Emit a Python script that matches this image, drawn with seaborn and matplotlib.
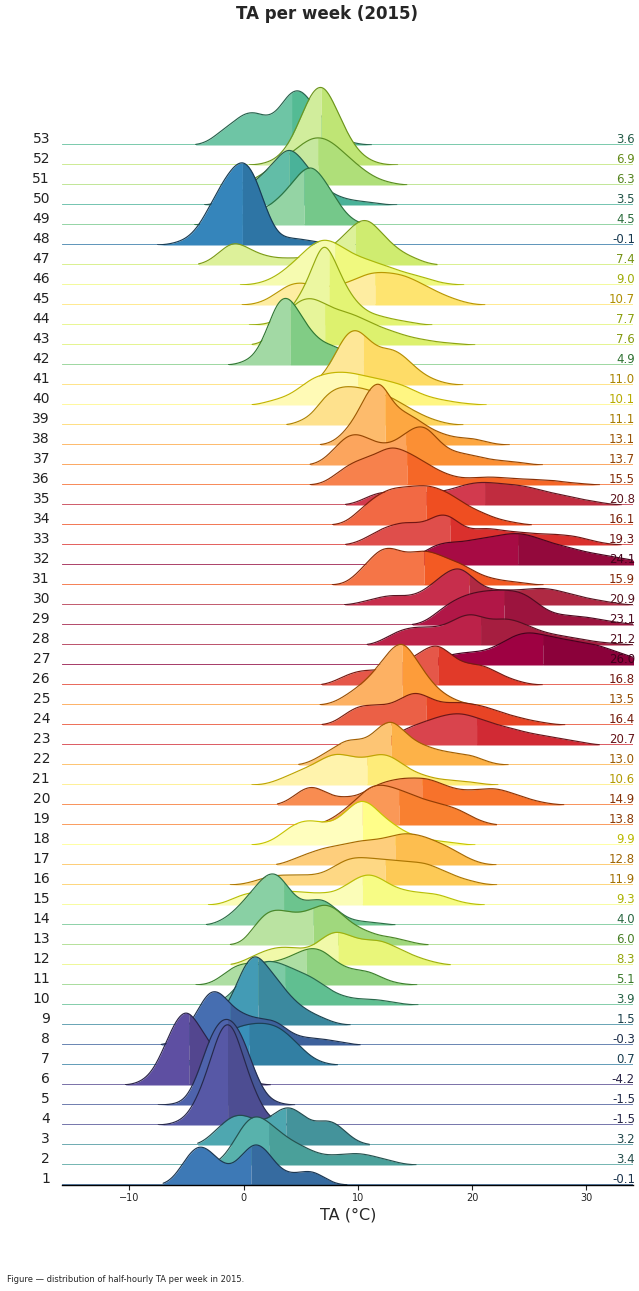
"""
Ridgeline of half-hourly air temperature (TA) per ISO week, 2015.
Each ridge: KDE of the week's records, light left of the median, darker right of it.
"""
import colorsys
import numpy as np
import matplotlib
matplotlib.use('Agg')
import matplotlib.pyplot as plt
import seaborn as sns

# ============================================================================
# Data
# ============================================================================
weeks = list(range(1, 54))

# weekly mean TA (deg C), shown at the right of each ridge
week_mean = [-0.1, 3.4, 3.2, -1.5, -1.5, -4.2, 0.7, -0.3, 1.5, 3.9,
             5.1, 8.3, 6.0, 4.0, 9.3, 11.9, 12.8, 9.9, 13.8, 14.9,
             10.6, 13.0, 20.7, 16.4, 13.5, 16.8, 26.0, 21.2, 23.1, 20.9,
             15.9, 24.1, 19.3, 16.1, 20.8, 15.5, 13.7, 13.1, 11.1, 10.1,
             11.0, 4.9, 7.6, 7.7, 10.7, 9.0, 7.4, -0.1, 4.5, 3.5,
             6.3, 6.9, 3.6]

# weekly median TA (deg C), where the ridge shading changes
week_median = [0.65, 2.2, 3.7, -1.4, -1.4, -4.8, 0.5, -1.2, 1.25, 3.6,
               5.5, 8.25, 6.1, 3.5, 10.4, 12.4, 13.25, 10.4, 13.6, 15.6,
               10.8, 12.9, 20.4, 16.0, 13.9, 17.0, 26.2, 20.75, 22.8, 19.75,
               15.8, 24.0, 18.1, 16.0, 21.1, 14.3, 14.2, 12.4, 10.9, 10.0,
               10.5, 4.1, 7.1, 7.5, 11.5, 8.0, 9.75, -0.1, 5.3, 4.0,
               6.5, 6.8, 4.2]

# number of records in 1 deg C bins; first bin centre given in week_start
week_start = [-6, -2, -3, -6, -6, -9, -5, -6, -3, -2,
              -3, 0, 0, -2, -2, 0, 4, 2, 7, 4,
              2, 6, 12, 8, 8, 8, 16, 12, 16, 10,
              9, 14, 10, 9, 10, 7, 7, 8, 5, 2,
              7, 0, 2, 2, 1, 1, -3, -6, -3, -2,
              0, 2, -3]

week_counts = [
    [8, 28, 42, 36, 22, 18, 32, 45, 36, 18, 11, 13, 15, 8, 1],
    [4, 20, 42, 52, 45, 35, 26, 20, 14, 10, 10, 11, 12, 10, 7, 4, 1],
    [8, 20, 30, 31, 25, 24, 35, 40, 32, 22, 25, 24, 12, 3],
    [2, 8, 28, 60, 102, 108, 66, 33, 10, 2],
    [1, 5, 30, 68, 88, 88, 68, 32, 8, 2],
    [3, 12, 36, 65, 79, 62, 42, 28, 16, 7, 2],
    [2, 8, 18, 28, 36, 40, 42, 42, 39, 30, 18, 7, 2],
    [4, 15, 35, 57, 54, 38, 31, 27, 26, 24, 13, 8, 7, 6, 4, 2],
    [3, 10, 28, 60, 75, 60, 45, 30, 19, 12, 7, 2],
    [3, 12, 28, 40, 45, 43, 38, 33, 28, 20, 12, 8, 6, 6, 5, 3, 1],
    [1, 8, 18, 22, 22, 22, 24, 28, 34, 38, 35, 24, 17, 15, 14, 8, 3, 1],
    [4, 10, 15, 18, 18, 16, 18, 28, 35, 31, 26, 25, 25, 20, 14, 9, 5, 2],
    [3, 20, 34, 36, 33, 32, 36, 42, 38, 26, 18, 13, 9, 8, 5, 2],
    [4, 12, 24, 38, 52, 54, 35, 23, 25, 27, 17, 7, 4, 3, 2],
    [1, 6, 11, 13, 14, 14, 14, 13, 12, 12, 13, 20, 28, 32, 27, 19, 15, 13, 12, 11, 7, 3, 1],
    [1, 4, 8, 10, 10, 10, 10, 12, 19, 26, 28, 27, 26, 25, 24, 23, 22, 17, 12, 7, 4, 1],
    [4, 9, 13, 17, 19, 21, 24, 25, 26, 29, 32, 31, 28, 23, 18, 11, 5, 1],
    [2, 8, 18, 24, 25, 22, 24, 34, 46, 44, 31, 22, 14, 9, 6, 4, 3, 1],
    [2, 8, 17, 27, 39, 41, 38, 34, 29, 25, 22, 19, 15, 8, 3],
    [5, 15, 20, 14, 8, 8, 9, 16, 22, 25, 27, 27, 27, 23, 18, 15, 15, 16, 17, 14, 10, 6, 3, 1],
    [1, 5, 10, 15, 20, 27, 32, 30, 27, 28, 32, 29, 20, 13, 9, 6, 5, 4, 3, 1],
    [4, 11, 18, 26, 25, 27, 40, 47, 34, 24, 19, 15, 13, 11, 10, 5, 1],
    [3, 9, 15, 20, 24, 28, 31, 32, 29, 25, 21, 18, 15, 12, 10, 8, 6, 4, 2],
    [3, 12, 19, 20, 20, 21, 28, 34, 29, 23, 22, 23, 21, 19, 15, 11, 8, 5, 3, 1],
    [3, 10, 18, 28, 42, 58, 66, 48, 30, 16, 8, 3],
    [4, 10, 14, 15, 15, 17, 22, 29, 37, 42, 32, 23, 21, 20, 14, 8, 4, 1],
    [3, 7, 10, 12, 13, 14, 18, 25, 31, 33, 31, 28, 26, 24, 22, 20, 16, 12, 8, 4, 1],
    [4, 11, 16, 18, 18, 18, 22, 29, 32, 27, 25, 27, 24, 19, 14, 11, 9, 7, 5, 3, 2, 1],
    [4, 13, 22, 28, 32, 34, 35, 35, 34, 29, 19, 12, 10, 9, 8, 6, 4, 2, 1],
    [2, 5, 8, 10, 9, 10, 16, 26, 35, 39, 28, 18, 15, 15, 15, 16, 17, 16, 13, 10, 7, 5, 3, 1],
    [2, 12, 25, 37, 38, 32, 33, 35, 31, 26, 22, 15, 9, 6, 4, 3, 1],
    [3, 8, 15, 21, 23, 23, 25, 27, 29, 31, 32, 30, 26, 22, 19, 16, 13, 11, 9, 7, 5, 3, 1],
    [3, 9, 16, 20, 23, 22, 23, 31, 31, 20, 15, 17, 16, 14, 13, 12, 11, 11, 10, 9, 6, 3, 1],
    [3, 13, 24, 32, 37, 38, 39, 40, 37, 32, 24, 17, 12, 7, 4, 2],
    [3, 9, 13, 13, 12, 12, 12, 13, 15, 19, 22, 23, 22, 21, 20, 18, 15, 12, 10, 7, 5, 3, 1],
    [2, 10, 19, 25, 28, 34, 39, 35, 29, 22, 15, 10, 7, 7, 8, 8, 7, 6, 6, 5, 5, 3, 2, 1],
    [5, 17, 30, 32, 26, 21, 22, 30, 39, 40, 25, 15, 12, 10, 7, 5, 4, 3, 1],
    [4, 15, 32, 58, 68, 42, 33, 28, 19, 13, 9, 7, 7, 4, 1],
    [4, 10, 28, 37, 39, 38, 35, 31, 28, 20, 14, 8, 4, 1],
    [3, 6, 10, 18, 27, 31, 33, 33, 31, 28, 26, 23, 20, 14, 9, 6, 4, 2, 1],
    [10, 30, 54, 58, 44, 36, 37, 30, 18, 9, 4, 1],
    [3, 9, 33, 68, 71, 50, 32, 22, 19, 13, 5, 1],
    [5, 18, 36, 46, 48, 42, 36, 33, 29, 23, 18, 14, 10, 7, 5, 3, 2, 1],
    [1, 5, 14, 30, 55, 92, 64, 37, 21, 12, 9, 6, 4, 2],
    [1, 5, 13, 21, 23, 20, 18, 19, 22, 27, 32, 33, 32, 30, 25, 19, 13, 8, 4, 1],
    [1, 4, 10, 19, 30, 41, 47, 43, 35, 29, 25, 21, 17, 13, 10, 7, 3, 1],
    [4, 14, 24, 20, 13, 9, 7, 7, 7, 9, 13, 21, 32, 45, 47, 33, 21, 12, 7, 2],
    [2, 6, 17, 38, 60, 78, 88, 72, 34, 9, 7, 6, 4, 2],
    [2, 5, 8, 10, 13, 17, 26, 38, 54, 62, 47, 28, 10, 2],
    [3, 8, 15, 24, 34, 48, 60, 48, 32, 18, 10, 6, 4, 3, 1],
    [2, 6, 14, 22, 31, 40, 48, 48, 41, 30, 20, 11, 5, 2],
    [2, 7, 21, 47, 76, 84, 60, 33, 14, 5, 1],
    [4, 14, 22, 32, 34, 27, 33, 54, 58, 42, 25, 12, 4, 1],
]

# ============================================================================
# Layout
# ============================================================================
sns.set_style('ticks')
plt.rcParams['font.family'] = ['DejaVu Sans']

W, H = 639, 1291
X0, X1 = 62, 633          # plot area in pixels
TOP_BASE = 145            # baseline of week 53 (pixels from top)
ROW = 20                  # pixels between ridges
AX_PX = 130               # height of each ridge axes in pixels
XLIM = (-15.9, 34.1)
BW = 0.7                  # kernel bandwidth in deg C

cmap = plt.get_cmap('Spectral_r')
n = len(weeks)
order = np.argsort(week_mean, kind='stable')
rank = np.empty(n)
rank[order] = np.arange(n)


def shade(rgb, f):
    h, l, s = colorsys.rgb_to_hls(*rgb[:3])
    return colorsys.hls_to_rgb(h, l * f, s)


fig = plt.figure(figsize=(W / 100, H / 100), dpi=100)

# top row first, so lower weeks are drawn in front
for k in range(n - 1, -1, -1):
    wk = weeks[k]
    counts = np.array(week_counts[k], dtype=float)
    temps = week_start[k] + np.arange(len(counts), dtype=float)
    total = counts.sum()
    med = week_median[k]
    bw_factor = BW / np.sqrt(np.cov(temps, aweights=counts))

    yb = TOP_BASE + (53 - wk) * ROW
    ax = fig.add_axes([X0 / W, 1 - yb / H, (X1 - X0) / W, AX_PX / H])
    ax.patch.set_alpha(0)

    base = cmap(rank[k] / (n - 1))[:3]
    dark = shade(base, 0.88)
    edge = shade(base, 0.45)
    txt = shade(base, 0.42)

    ax.axhline(0, color=dark, lw=1.8, zorder=1)
    kde_kw = dict(x=temps, weights=counts, bw_method=bw_factor, ax=ax,
                  gridsize=400, cut=1.2)
    sns.kdeplot(**kde_kw, clip=(-60, med), fill=True, color=base, alpha=1,
                linewidth=0, zorder=2)
    sns.kdeplot(**kde_kw, clip=(med, 60), fill=True, color=dark, alpha=1,
                linewidth=0, zorder=2)
    sns.kdeplot(**kde_kw, color=edge, linewidth=0.85, zorder=3)

    ax.set_xlim(XLIM)
    # ridge height follows the number of records in the week
    ax.set_ylim(0, AX_PX / total)
    ax.set_ylabel('')
    ax.set_yticks([])
    for side in ['left', 'right', 'top']:
        ax.spines[side].set_visible(False)

    ax.text(-12 / (X1 - X0), 2.3 / AX_PX, str(wk), transform=ax.transAxes,
            ha='right', va='baseline', fontsize=10, color='#222222')
    ax.text(1 + 2 / (X1 - X0), 2.3 / AX_PX, f'{week_mean[k]:.1f}',
            transform=ax.transAxes, ha='right', va='baseline',
            fontsize=8.5, color=txt, zorder=5)

    if wk == 1:
        ax.spines['bottom'].set_color('black')
        ax.spines['bottom'].set_linewidth(1.0)
        ax.spines['bottom'].set_zorder(6)
        ax.set_xticks([-10, 0, 10, 20, 30])
        ax.tick_params(axis='x', labelsize=7, length=3.5, width=0.8,
                       pad=2, colors='#222222')
        ax.set_xlabel('')
    else:
        ax.spines['bottom'].set_visible(False)
        ax.set_xticks([])
        ax.set_xlabel('')

fig.text(327 / W, 1 - 19 / H, 'TA per week (2015)', ha='center',
         va='baseline', fontsize=12, fontweight='bold')
fig.text(348 / W, 1 - 1220 / H, 'TA (°C)', ha='center', va='baseline',
         fontsize=11.5)
fig.text(7 / W, 1 - 1282 / H,
         'Figure — distribution of half-hourly TA per week in 2015.',
         ha='left', va='baseline', fontsize=6)

fig.savefig('out.png', dpi=100)
print('[+] Saved: out.png')
